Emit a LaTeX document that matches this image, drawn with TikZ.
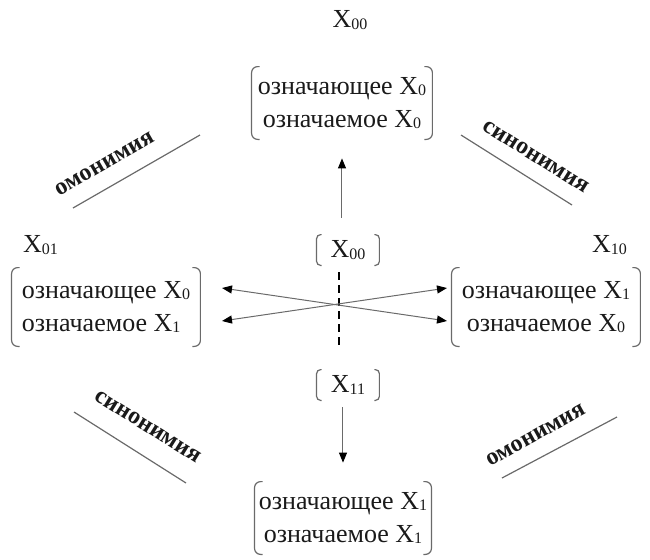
\documentclass[tikz,border=0pt]{standalone}
\usepackage{fontspec}
\setmainfont{Liberation Serif}
\usetikzlibrary{arrows.meta}
\definecolor{lineGray}{HTML}{6A6A6A}
\definecolor{inkBlack}{HTML}{1A1A1A}
\newcommand{\Xsub}[1]{X\raisebox{-0.8pt}{\fontsize{8}{8}\selectfont #1}}
\tikzset{
    sememe/.style={inner sep=2pt,minimum width=90pt,minimum height=36pt,
        align=center,font=\rmfamily\fontsize{13}{16.5}\selectfont,text=inkBlack},
    variant/.style={inner sep=2pt,minimum width=31pt,minimum height=15pt,
        font=\rmfamily\fontsize{13}{15}\selectfont,text=inkBlack},
    tag/.style={font=\rmfamily\fontsize{13}{15}\selectfont,text=inkBlack},
    relation/.style={font=\rmfamily\bfseries\fontsize{12}{13}\selectfont,text=inkBlack},
    bracket/.style={draw=lineGray,line width=0.6pt},
    arrow/.style={-{Triangle[length=5pt,width=4pt,color=black,fill=black]},
        draw=lineGray,line width=0.5pt},
    divider/.style={draw=lineGray,line width=0.6pt},
    axis/.style={dash pattern=on 4pt off 2.5pt,draw=black,line width=0.9pt}
}
\begin{document}
\begin{tikzpicture}[x=0.5pt,y=-0.5pt]
    \useasboundingbox (0,0) rectangle (650,559);
    % sign variants
    \node[tag] (t00) at (350,20) {\Xsub{00}};
    \node[sememe] (top) at (342,103) {означающее \Xsub{0}\\означаемое \Xsub{0}};
    \node[tag,anchor=west] (t01) at (16,245) {\Xsub{01}};
    \node[sememe,align=left,minimum width=94pt,minimum height=39pt] (left) at (106,307)
        {означающее \Xsub{0}\\означаемое \Xsub{1}};
    \node[tag,anchor=east] (t10) at (634,245) {\Xsub{10}};
    \node[sememe,minimum width=94pt,minimum height=39pt] (right) at (546,307)
        {означающее \Xsub{1}\\означаемое \Xsub{0}};
    \node[sememe,minimum width=88pt] (bot) at (343,518) {означающее \Xsub{1}\\означаемое \Xsub{1}};
    \node[variant] (c00) at (348,250) {\Xsub{00}};
    \node[variant] (c11) at (348,385) {\Xsub{11}};
    \foreach \n/\h/\r in {top/4pt/3pt,left/4pt/3pt,right/4pt/3pt,bot/4pt/3pt,c00/2.5pt/2pt,c11/2.5pt/2pt} {
        \draw[bracket,rounded corners=\r] ([xshift=\h]\n.north west) -- (\n.north west)
            -- (\n.south west) -- ([xshift=\h]\n.south west);
        \draw[bracket,rounded corners=\r] ([xshift=-\h]\n.north east) -- (\n.north east)
            -- (\n.south east) -- ([xshift=-\h]\n.south east);
    }
    % arrows
    \draw[arrow,shorten <=8.5pt,shorten >=9.5pt] (c00.north -| top.south) -- (top.south);
    \draw[arrow,shorten <=3.5pt,shorten >=9.5pt] (c11.south -| bot.north) -- (bot.north);
    \draw[axis,shorten <=3.5pt,shorten >=11pt] ([xshift=-4.5pt]c00.south) -- ([xshift=-4.5pt]c11.north);
    \coordinate (hub) at (334.5,304.5);
    \coordinate (lu) at (222,288);
    \coordinate (ld) at (222,321);
    \coordinate (ru) at (447,288);
    \coordinate (rd) at (447,321);
    \foreach \t in {lu,ld,ru,rd} {
        \draw[arrow] (hub) -- (\t);
    }
    % relations
    \draw[divider] (73,208) -- (200,135);
    \draw[divider] (461,135) -- (572,205);
    \draw[divider] (74,412) -- (186,483);
    \draw[divider] (502,478) -- (617,417);
    \node[relation,rotate=30] (hom1) at (105,164) {омонимия};
    \node[relation,rotate=-32] (syn1) at (536,157) {синонимия};
    \node[relation,rotate=-32] (syn2) at (148,427) {синонимия};
    \node[relation,rotate=29] (hom2) at (536,435) {омонимия};
\end{tikzpicture}
\end{document}
